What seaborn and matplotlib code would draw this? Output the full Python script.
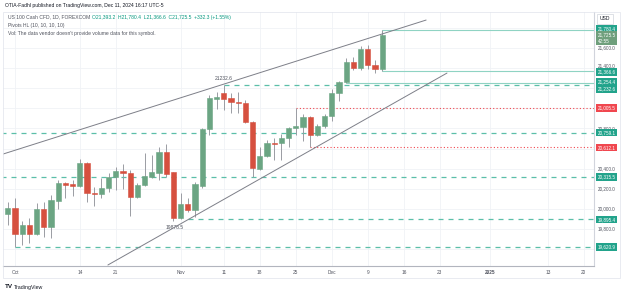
import numpy as np
import pandas as pd
import seaborn as sns
import matplotlib.pyplot as plt
from matplotlib.patches import Rectangle

# DADOS (barra 0 = 1 out 2024, dias úteis)
bar_idx = list(range(-1, 52))
opens = [19947, 20013, 19751, 19841, 19751, 20000, 19818, 20082, 20255, 20245,
         20228, 20454, 20159, 20146, 20205, 20315, 20377, 20355, 20122, 20235,
         20320, 20360, 20569, 20364, 19907, 20046, 19990, 20228, 20795, 21096,
         21156, 21100, 21066, 21056, 20867, 20397, 20529, 20659, 20653, 20702,
         20802, 20818, 20917, 20735, 20825, 20927, 21150, 21265, 21464, 21398,
         21587, 21431, 21393.2]
highs = [20072, 20106, 19880, 19907, 20061, 20072, 20139, 20288, 20270, 20288,
         20494, 20470, 20218, 20305, 20355, 20420, 20444, 20385, 20255, 20559,
         20536, 20613, 20646, 20370, 20156, 20106, 20265, 20800, 21133, 21160,
         21232.6, 21156, 21160, 21083, 20874, 20613, 20686, 20703, 20750, 20812,
         21005.5, 20940, 20927, 20842, 20940, 21192, 21275, 21504, 21507, 21620,
         21630, 21481, 21780.4]
lows = [19841, 19620.9, 19640, 19659, 19745, 19718, 19708, 20000, 20106, 20132,
        20215, 20072, 20030, 20106, 20172, 20188, 20195, 19933, 20106, 20228,
        20311, 20288, 20315, 19878.5, 19897, 19973, 19923, 20205, 20735, 20990,
        20984, 20951, 20951, 20851, 20315.5, 20387, 20513, 20487, 20487, 20619,
        20735, 20679, 20612.1, 20725, 20802, 20877, 21076, 21254.4, 21381, 21381,
        21388, 21349, 21366.6]
closes = [20013, 19751, 19843, 19751, 20000, 19818, 20089, 20255, 20241, 20232,
          20454, 20156, 20144, 20205, 20315, 20377, 20355, 20122, 20235, 20328,
          20364, 20569, 20348, 19907, 20046, 19990, 20245, 20795, 21106, 21112,
          21093, 21063, 21050, 20867, 20404, 20529, 20659, 20649, 20708, 20802,
          20825, 20917, 20735, 20825, 20927, 21150, 21265, 21464, 21398, 21587,
          21431, 21393.2, 21725.5]

# linhas de pivô: (preço, barra inicial)
pivot_green = [21232.6, 20759.1, 20315.5, 19895.4, 19620.9]
pivot_green_start = [29, -2, -2, 24, 0]
pivot_red = [21005.5, 20612.1]
pivot_red_start = [39, 41]
hold_level = 21254.4
hold_start = 46

# linhas de tendência (barra, preço)
upper_trend_x = [-2.1, 57.1]
upper_trend_y = [20536, 21878]
lower_trend_x = [12.9, 60.0]
lower_trend_y = [19443, 21351]

tick_pos = [0, 9, 14, 23, 29, 34, 39, 44, 49, 54, 59, 66, 74, 79]
tick_lab = ['Oct', '14', '21', 'Nov', '11', '18', '25', 'Dec', '9', '16', '23', '2025', '13', '20']
axis_prices = [21600, 21400, 20800, 20400, 20200, 20000, 19800]
axis_label_y = [21600, 21428, 20800, 20400, 20200, 20000, 19800]

GREEN = '#6ba583'
RED = '#d6503f'
TEAL = '#22a38b'
DOT_RED = '#f0474f'
WICK = '#9a9ca3'
GRAY_TXT = '#50535e'

sns.set_theme(style='white')
plt.rcParams['font.family'] = ['Liberation Sans', 'DejaVu Sans']

df = pd.DataFrame({'bar': bar_idx, 'open': opens, 'high': highs, 'low': lows, 'close': closes})
df['up'] = df['close'] >= df['open']

W, H = 625, 294
fig = plt.figure(figsize=(W / 100, H / 100), dpi=100)
ax = fig.add_axes([3 / W, (H - 266) / H, 591 / W, 254 / H])
ax.set_xlim(-1.67, 80.42)
ax.set_ylim(19433, 21958)

# grade
for p in tick_pos:
    ax.axvline(p, color='#f0f2f6', lw=0.6, zorder=0)
for p in np.arange(19600, 22000, 200):
    ax.axhline(p, color='#f0f2f6', lw=0.6, zorder=0)

# velas
ax.vlines(df['bar'], df['low'], df['high'], color=WICK, lw=0.7, zorder=2)
body_lo = df[['open', 'close']].min(axis=1)
body_h = (df['close'] - df['open']).abs().clip(lower=8)
cols = np.where(df['up'], GREEN, RED)
ax.bar(df['bar'], body_h, bottom=body_lo, width=0.74, color=cols,
       edgecolor=cols, linewidth=0.4, zorder=3)

# tendências
ax.plot(upper_trend_x, upper_trend_y, color='#7d7f88', lw=0.7, zorder=4)
ax.plot(lower_trend_x, lower_trend_y, color='#7d7f88', lw=0.7, zorder=4)

xmax = 80.42
for p, s in zip(pivot_green, pivot_green_start):
    ax.hlines(p, s, xmax, color='#5bbfa8', lw=0.9, linestyles=(0, (4, 4)), zorder=1)
for p, s in zip(pivot_red, pivot_red_start):
    ax.hlines(p, s, xmax, color=DOT_RED, lw=0.8, linestyles=(0, (1, 2)), zorder=1)
ax.hlines(hold_level, hold_start, xmax, color='#8fd3c3', lw=0.8, zorder=1)

# caixa da última vela
last = df.iloc[-1]
ax.hlines([last['high'], last['low']], last['bar'], xmax, color='#8fd3c3', lw=0.8, zorder=1)
ax.vlines(last['bar'], last['low'], last['high'], color='#8fd3c3', lw=0.8, zorder=1)

# rótulos dos pivôs
ax.annotate('21232.6', (29, 21232.6), xytext=(0, 3), textcoords='offset points',
            ha='center', va='bottom', fontsize=3.6, color=GRAY_TXT)
ax.annotate('19878.5', (22, 19878.5), xytext=(1, -3), textcoords='offset points',
            ha='center', va='top', fontsize=3.6, color=GRAY_TXT)

# eixo de preços
tr = ax.get_yaxis_transform()
for p, yl in zip(axis_prices, axis_label_y):
    ax.text(1.006, yl, f'{p:,.1f}', transform=tr, fontsize=3.3, color=GRAY_TXT,
            va='center', ha='left', clip_on=False, zorder=5)

boxes = [('21,780.4', 21795, TEAL), ('21,366.6', 21362, TEAL), ('21,254.4', 21262, TEAL),
         ('21,232.6', 21192, TEAL), ('21,005.5', 21005.5, DOT_RED), ('20,759.1', 20759.1, TEAL),
         ('20,612.1', 20612.1, DOT_RED), ('20,315.5', 20315.5, TEAL), ('19,895.4', 19895.4, TEAL),
         ('19,620.9', 19620.9, TEAL)]
for txt, p, c in boxes:
    ax.text(1.006, p, txt, transform=tr, fontsize=3.3, color='white', va='center', ha='left',
            clip_on=False, zorder=6, bbox=dict(boxstyle='square,pad=0.3', fc=c, ec='none'))
ax.text(1.006, 21700, '21,725.5\n42:55', transform=tr, fontsize=3.3, color='white',
        va='center', ha='left', linespacing=1.4, clip_on=False, zorder=6,
        bbox=dict(boxstyle='square,pad=0.35', fc='#6f9f7c', ec='none'))
fig.text(605 / W, 1 - 19 / H, 'USD', fontsize=3.6, color='#131722', ha='center', va='center',
         bbox=dict(boxstyle='square,pad=0.5', fc='white', ec='#d1d4dc', lw=0.5))

# eixo de tempo
ax.set_xticks(tick_pos)
ax.set_xticklabels(tick_lab)
ax.tick_params(axis='x', length=0, pad=3, labelsize=3.4, labelcolor=GRAY_TXT)
ax.get_xticklabels()[tick_lab.index('2025')].set_fontweight('bold')
ax.set_yticks([])
for side in ['top', 'left']:
    ax.spines[side].set_visible(False)
ax.spines['bottom'].set_color('#b2b5be')
ax.spines['bottom'].set_linewidth(0.8)
ax.spines['right'].set_color('#d1d4dc')
ax.spines['right'].set_linewidth(0.8)

# moldura
fig.add_artist(Rectangle((3 / W, (H - 278) / H), 617 / W, 266 / H, transform=fig.transFigure,
                         fill=False, ec='#e0e3eb', lw=0.5))

# cabeçalho
fig.text(5 / W, 1 - 5 / H, 'OTIA-Fadhl published on TradingView.com, Dec 11, 2024 16:17 UTC-5',
         fontsize=3.6, color='#131722', va='center')
fig.text(8 / W, 1 - 17 / H, 'US 100 Cash CFD, 1D, FOREXCOM', fontsize=3.6,
         color=GRAY_TXT, va='center')
fig.text(92 / W, 1 - 17 / H, 'O21,393.2  H21,780.4  L21,366.6  C21,725.5  +332.3 (+1.55%)',
         fontsize=3.6, color='#089981', va='center')
fig.text(8 / W, 1 - 25 / H, 'Pivots HL (10, 10, 10, 10)', fontsize=3.6, color=GRAY_TXT, va='center')
fig.text(8 / W, 1 - 33 / H, "Vol: The data vendor doesn't provide volume data for this symbol.",
         fontsize=3.6, color=GRAY_TXT, va='center')
fig.text(5 / W, 1 - 287 / H, 'TV', fontsize=4.5, fontweight='bold', color='#131722', va='center')
fig.text(14 / W, 1 - 287 / H, 'TradingView', fontsize=3.8, color='#131722', va='center')

fig.savefig('out.png', dpi=100)
